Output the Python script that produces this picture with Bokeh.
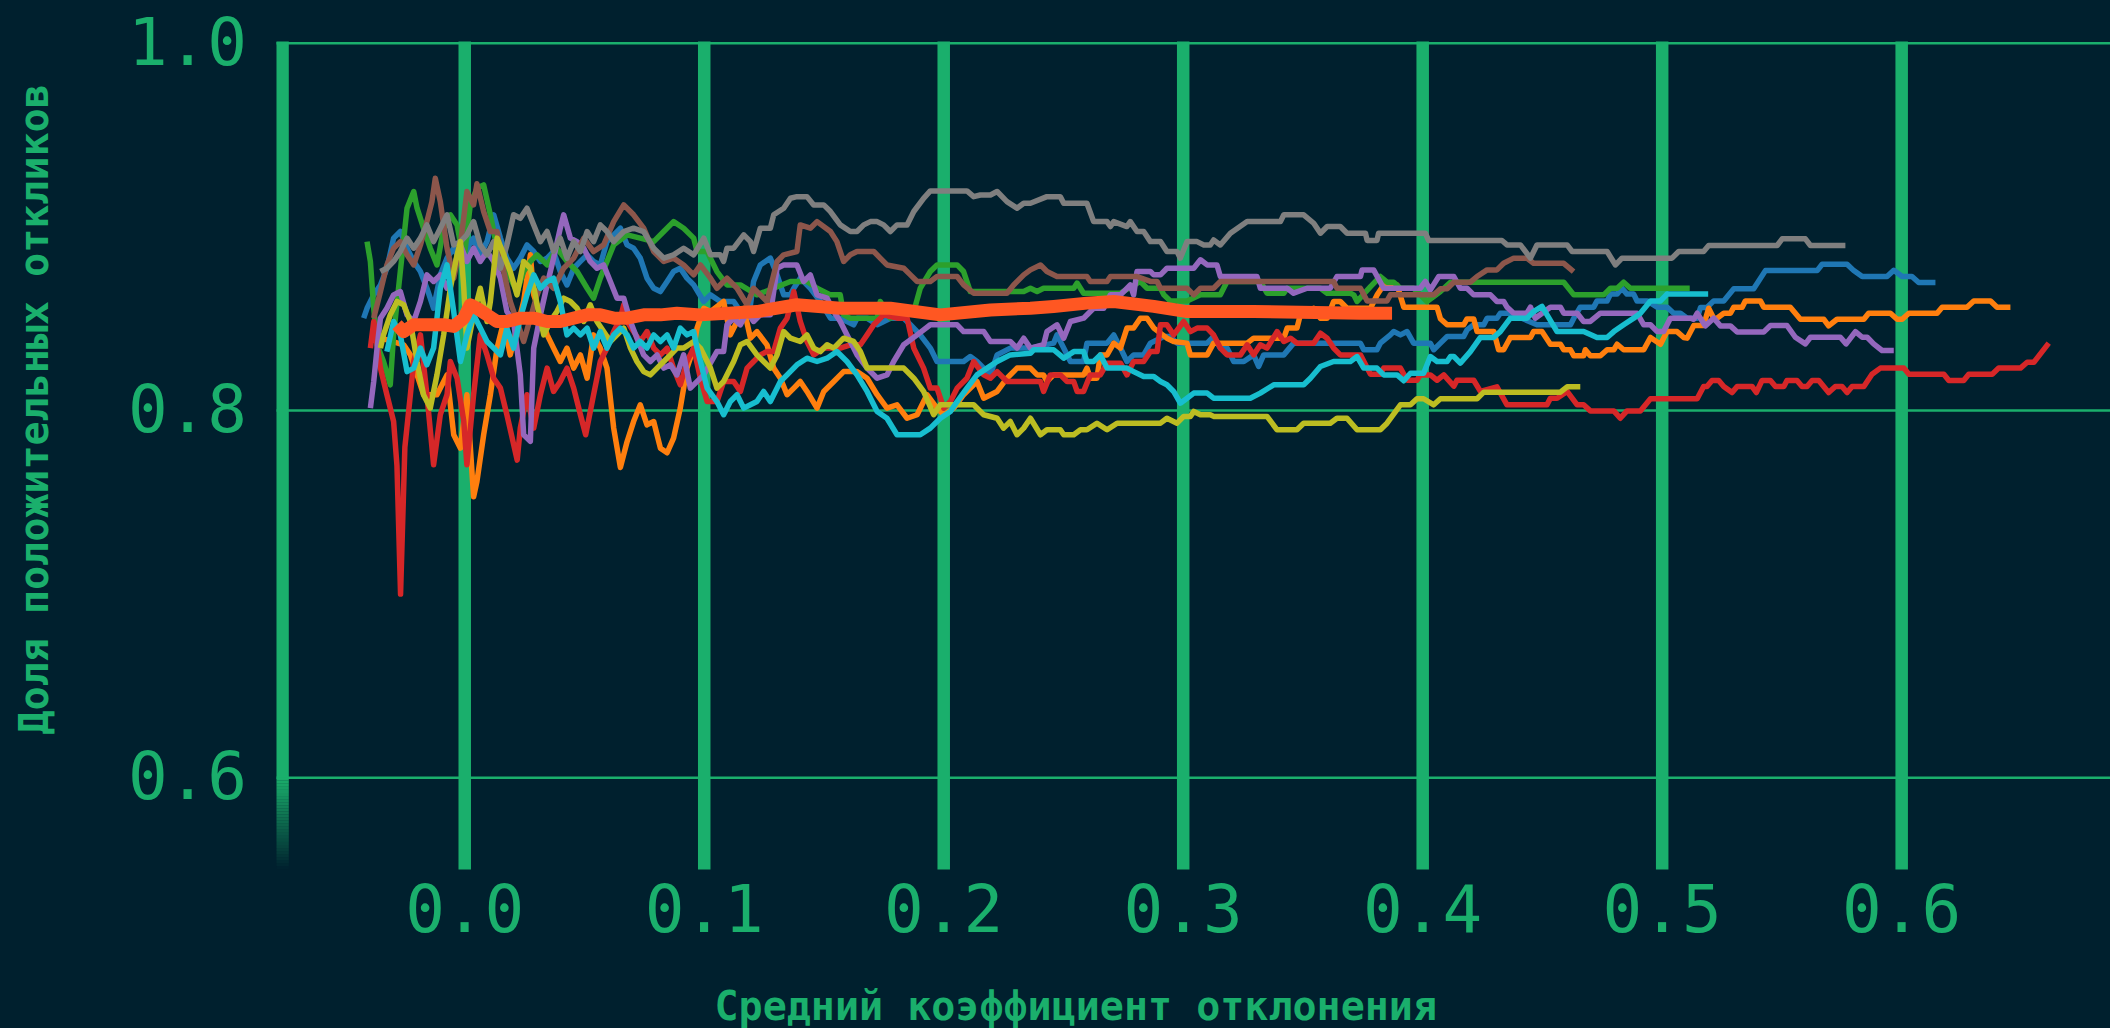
import math
from bokeh.plotting import figure
from bokeh.models import ColumnDataSource
from bokeh.core.properties import value
from bokeh.embed import file_html
from bokeh.resources import INLINE

# ---------------- data ----------------
x_ticks = [0.0, 0.1, 0.2, 0.3, 0.4, 0.5, 0.6]
x_tick_labels = ["0.0", "0.1", "0.2", "0.3", "0.4", "0.5", "0.6"]
y_ticks = [0.6, 0.8, 1.0]
y_tick_labels = ["0.6", "0.8", "1.0"]

x_title = "Средний коэффициент отклонения"
y_title = "Доля положительных откликов"

series_names = ["blue", "orange", "green", "red", "purple", "brown", "gray", "olive", "cyan"]

blue = [(-0.0422,0.8503),(-0.0408,0.8557),(-0.0380,0.8630),(-0.0352,0.8684),(-0.0325,0.8775),(-0.0297,0.8939),(-0.0269,0.8975),(-0.0241,0.8884),(-0.0213,0.8812),(-0.0185,0.8757),(-0.0158,0.8666),(-0.0130,0.8557),(-0.0102,0.8739),(-0.0074,0.8830),(-0.0046,0.8884),(-0.0018,0.8812),(0.0009,0.8884),(0.0037,0.8939),(0.0065,0.8848),(0.0093,0.8920),(0.0121,0.9066),(0.0149,0.8939),(0.0176,0.8830),(0.0204,0.8775),(0.0232,0.8830),(0.0260,0.8902),(0.0288,0.8866),(0.0316,0.8812),(0.0344,0.8830),(0.0371,0.8866),(0.0399,0.8757),(0.0427,0.8684),(0.0455,0.8775),(0.0483,0.8812),(0.0511,0.8848),(0.0538,0.8812),(0.0566,0.8793),(0.0594,0.8920),(0.0622,0.8957),(0.0650,0.8993),(0.0678,0.8902),(0.0705,0.8884),(0.0733,0.8830),(0.0761,0.8721),(0.0789,0.8666),(0.0817,0.8648),(0.0845,0.8703),(0.0872,0.8757),(0.0900,0.8775),(0.0928,0.8721),(0.0956,0.8684),
        (0.0998,0.8594),(0.1026,0.8630),(0.1067,0.8594),(0.1123,0.8594),(0.1151,0.8539),(0.1193,0.8576),(0.1206,0.8703),(0.1234,0.8793),(0.1276,0.8830),(0.1304,0.8739),(0.1332,0.8630),(0.1360,0.8630),(0.1374,0.8666),(0.1401,0.8721),(0.1443,0.8666),(0.1485,0.8594),(0.1527,0.8503),(0.1568,0.8503),(0.1624,0.8467),(0.1638,0.8503),(0.1680,0.8503),(0.1722,0.8467),(0.1777,0.8503),(0.1833,0.8503),(0.1861,0.8467),(0.1902,0.8412),(0.1944,0.8340),(0.1972,0.8267),(0.2083,0.8267),(0.2111,0.8294),(0.2139,0.8267),(0.2167,0.8231),(0.2195,0.8194),(0.2223,0.8303),(0.2278,0.8340),(0.2362,0.8340),
        (0.2459,0.8367),(0.2473,0.8412),(0.2501,0.8340),(0.2529,0.8267),(0.2584,0.8267),(0.2598,0.8367),(0.2682,0.8367),(0.2710,0.8412),(0.2738,0.8340),(0.2765,0.8267),(0.2793,0.8303),(0.2835,0.8303),(0.2863,0.8367),(0.2919,0.8403),(0.2946,0.8403),(0.2974,0.8367),(0.3100,0.8367),(0.3127,0.8403),(0.3155,0.8340),(0.3183,0.8340),(0.3211,0.8267),(0.3253,0.8267),(0.3294,0.8303),(0.3315,0.8240),(0.3336,0.8303),(0.3420,0.8303),(0.3461,0.8367),(0.3740,0.8367),
        (0.3754,0.8331),(0.3809,0.8331),(0.3823,0.8367),(0.3865,0.8412),(0.3879,0.8430),(0.3907,0.8412),(0.3935,0.8430),(0.3962,0.8367),(0.4032,0.8367),(0.4046,0.8331),(0.4074,0.8367),(0.4102,0.8403),(0.4171,0.8403),(0.4185,0.8439),(0.4213,0.8467),(0.4255,0.8467),(0.4269,0.8503),(0.4310,0.8503),(0.4324,0.8530),(0.4366,0.8530),(0.4477,0.8467),(0.4617,0.8467),(0.4631,0.8503),(0.4658,0.8563),(0.4714,0.8563),(0.4728,0.8597),(0.4770,0.8597),(0.4784,0.8634),(0.4812,0.8634),(0.4832,0.8666),(0.4853,0.8634),(0.4881,0.8634),(0.4895,0.8597),(0.4937,0.8597),(0.4979,0.8563),(0.5020,0.8563),(0.5048,0.8530),(0.5076,0.8530),(0.5104,0.8503),
        (0.5146,0.8503),(0.5160,0.8561),(0.5187,0.8561),(0.5215,0.8597),(0.5257,0.8597),(0.5299,0.8663),(0.5382,0.8663),(0.5431,0.8762),(0.5647,0.8762),(0.5668,0.8797),(0.5772,0.8797),(0.5800,0.8762),(0.5835,0.8730),(0.5939,0.8730),(0.5967,0.8764),(0.6002,0.8730),(0.6043,0.8730),(0.6071,0.8697),(0.6141,0.8697)]

orange = [(-0.0394,0.8412),(-0.0255,0.8358),(-0.0227,0.8303),(-0.0199,0.8194),(-0.0172,0.8086),(-0.0116,0.8086),(-0.0074,0.8194),(-0.0046,0.7868),(-0.0018,0.7795),(0.0009,0.8086),(0.0037,0.7530),(0.0051,0.7614),(0.0079,0.7868),(0.0107,0.8086),(0.0135,0.8340),(0.0163,0.8485),(0.0190,0.8303),(0.0218,0.8449),(0.0246,0.8594),(0.0274,0.8848),(0.0288,0.8630),(0.0316,0.8521),(0.0344,0.8412),(0.0371,0.8340),(0.0399,0.8267),(0.0427,0.8340),(0.0455,0.8231),(0.0483,0.8303),(0.0511,0.8176),(0.0538,0.8412),(0.0566,0.8340),(0.0594,0.8231),(0.0622,0.7904),(0.0650,0.7690),(0.0678,0.7831),(0.0705,0.7940),(0.0733,0.8031),(0.0761,0.7922),(0.0789,0.7940),(0.0817,0.7795),(0.0845,0.7770),(0.0872,0.7850),(0.0900,0.8013),(0.0928,0.8231),(0.0956,0.8340),
          (0.0970,0.8449),(0.0998,0.8557),(0.1026,0.8539),(0.1081,0.8594),(0.1109,0.8412),(0.1137,0.8485),(0.1165,0.8557),(0.1193,0.8394),(0.1220,0.8430),(0.1262,0.8358),(0.1290,0.8231),(0.1318,0.8176),(0.1346,0.8086),(0.1374,0.8122),(0.1401,0.8158),(0.1429,0.8104),(0.1471,0.8013),(0.1499,0.8104),(0.1541,0.8158),(0.1582,0.8212),(0.1638,0.8212),(0.1680,0.8176),(0.1722,0.8086),(0.1763,0.8013),(0.1805,0.8031),(0.1847,0.7958),(0.1889,0.7977),(0.1930,0.8086),(0.1972,0.8013),(0.2000,0.7977),(0.2042,0.8013),(0.2083,0.8086),(0.2139,0.8158),(0.2167,0.8067),(0.2223,0.8104),(0.2264,0.8176),(0.2306,0.8231),(0.2362,0.8231),
          (0.2390,0.8194),(0.2417,0.8194),(0.2431,0.8158),(0.2459,0.8194),(0.2584,0.8194),(0.2598,0.8231),(0.2612,0.8176),(0.2640,0.8176),(0.2654,0.8303),(0.2682,0.8303),(0.2710,0.8367),(0.2738,0.8340),(0.2765,0.8449),(0.2793,0.8449),(0.2821,0.8503),(0.2849,0.8503),(0.2877,0.8449),(0.2932,0.8394),(0.2960,0.8376),(0.3016,0.8367),(0.3030,0.8303),(0.3100,0.8303),(0.3127,0.8367),(0.3267,0.8367),(0.3294,0.8394),(0.3420,0.8394),(0.3434,0.8449),(0.3475,0.8449),(0.3489,0.8521),(0.3531,0.8521),(0.3545,0.8557),(0.3573,0.8503),(0.3601,0.8503),(0.3628,0.8594),(0.3656,0.8594),(0.3684,0.8557),(0.3740,0.8557),
          (0.3782,0.8557),(0.3810,0.8630),(0.3837,0.8684),(0.3893,0.8684),(0.3921,0.8563),(0.4060,0.8563),(0.4074,0.8500),(0.4102,0.8467),(0.4171,0.8467),(0.4185,0.8499),(0.4213,0.8499),(0.4227,0.8430),(0.4297,0.8430),(0.4317,0.8331),(0.4338,0.8331),(0.4366,0.8398),(0.4450,0.8398),(0.4463,0.8430),(0.4498,0.8430),(0.4533,0.8361),(0.4575,0.8361),(0.4589,0.8331),(0.4617,0.8331),(0.4631,0.8298),(0.4672,0.8298),(0.4679,0.8331),(0.4700,0.8298),(0.4742,0.8298),(0.4770,0.8331),(0.4798,0.8331),(0.4812,0.8361),(0.4839,0.8331),(0.4923,0.8331),(0.4951,0.8398),(0.4993,0.8361),(0.5020,0.8430),(0.5062,0.8430),(0.5090,0.8398),(0.5104,0.8394),
          (0.5132,0.8463),(0.5173,0.8463),(0.5194,0.8557),(0.5215,0.8503),(0.5229,0.8503),(0.5257,0.8530),(0.5285,0.8530),(0.5299,0.8563),(0.5334,0.8563),(0.5347,0.8597),(0.5410,0.8597),(0.5424,0.8563),(0.5535,0.8563),(0.5577,0.8497),(0.5675,0.8497),(0.5695,0.8461),(0.5730,0.8497),(0.5842,0.8497),(0.5862,0.8530),(0.5953,0.8530),(0.5981,0.8497),(0.6002,0.8497),(0.6030,0.8530),(0.6148,0.8530),(0.6169,0.8563),(0.6273,0.8563),(0.6301,0.8597),(0.6371,0.8597),(0.6398,0.8563),(0.6454,0.8563)]

green = [(-0.0408,0.8920),(-0.0394,0.8812),(-0.0380,0.8557),(-0.0366,0.8358),(-0.0339,0.8267),(-0.0311,0.8140),(-0.0297,0.8412),(-0.0269,0.8757),(-0.0241,0.9102),(-0.0213,0.9193),(-0.0199,0.9102),(-0.0172,0.8993),(-0.0144,0.8884),(-0.0116,0.8793),(-0.0088,0.8993),(-0.0060,0.9066),(-0.0032,0.9011),(-0.0004,0.8812),(0.0023,0.9120),(0.0051,0.9211),(0.0079,0.9229),(0.0107,0.9066),(0.0135,0.8884),(0.0163,0.8812),(0.0190,0.8721),(0.0218,0.8648),(0.0246,0.8757),(0.0274,0.8812),(0.0302,0.8848),(0.0344,0.8793),(0.0385,0.8884),(0.0427,0.8812),(0.0469,0.8757),(0.0511,0.8666),(0.0538,0.8612),(0.0566,0.8721),(0.0594,0.8812),(0.0622,0.8902),(0.0678,0.8957),(0.0733,0.8939),(0.0789,0.8920),(0.0831,0.8975),(0.0872,0.9029),(0.0914,0.8993),(0.0956,0.8939),
         (0.0970,0.8866),(0.1012,0.8866),(0.1053,0.8757),(0.1095,0.8684),(0.1151,0.8684),(0.1220,0.8630),(0.1290,0.8666),(0.1360,0.8703),(0.1429,0.8703),(0.1471,0.8666),(0.1527,0.8630),(0.1568,0.8630),(0.1582,0.8521),(0.1610,0.8503),(0.1722,0.8503),(0.1735,0.8594),(0.1777,0.8503),(0.1833,0.8521),(0.1875,0.8539),(0.1902,0.8666),(0.1944,0.8757),(0.1972,0.8793),(0.2056,0.8793),(0.2083,0.8757),(0.2111,0.8648),(0.2153,0.8648),(0.2334,0.8648),
         (0.2362,0.8666),(0.2390,0.8648),(0.2417,0.8666),(0.2543,0.8666),(0.2557,0.8694),(0.2584,0.8639),(0.2738,0.8639),(0.2821,0.8703),(0.2849,0.8666),(0.2905,0.8666),(0.2919,0.8630),(0.2946,0.8597),(0.3016,0.8597),(0.3072,0.8630),(0.3155,0.8630),(0.3183,0.8703),(0.3322,0.8703),(0.3350,0.8639),(0.3420,0.8639),(0.3434,0.8666),(0.3573,0.8666),(0.3601,0.8639),(0.3698,0.8639),
         (0.3712,0.8630),(0.3726,0.8594),(0.3782,0.8675),(0.3823,0.8730),(0.3851,0.8699),(0.3879,0.8699),(0.3907,0.8666),(0.3962,0.8666),(0.4018,0.8594),(0.4074,0.8648),(0.4116,0.8699),(0.4589,0.8699),(0.4631,0.8630),(0.4756,0.8630),(0.4784,0.8666),(0.4812,0.8666),(0.4839,0.8699),(0.4867,0.8666),(0.5115,0.8666)]

red = [(-0.0394,0.8340),(-0.0380,0.8485),(-0.0352,0.8231),(-0.0325,0.8086),(-0.0297,0.7940),(-0.0283,0.7700),(-0.0268,0.7000),(-0.0250,0.7800),(-0.0227,0.8086),(-0.0213,0.8267),(-0.0185,0.8412),(-0.0158,0.8086),(-0.0130,0.7704),(-0.0102,0.7977),(-0.0074,0.8086),(-0.0060,0.8267),(-0.0032,0.8176),(-0.0004,0.7940),(0.0009,0.7704),(0.0037,0.8086),(0.0065,0.8412),(0.0093,0.8303),(0.0121,0.8176),(0.0149,0.8122),(0.0176,0.7977),(0.0219,0.7730),(0.0232,0.7904),(0.0260,0.8086),(0.0288,0.7904),(0.0316,0.8086),(0.0344,0.8231),(0.0371,0.8104),(0.0399,0.8158),(0.0427,0.8231),(0.0455,0.8122),(0.0483,0.7977),(0.0505,0.7868),(0.0538,0.8086),(0.0566,0.8267),(0.0594,0.8340),(0.0622,0.8430),(0.0650,0.8503),(0.0664,0.8576),(0.0678,0.8485),(0.0705,0.8430),(0.0733,0.8376),(0.0761,0.8430),(0.0789,0.8340),(0.0817,0.8303),(0.0845,0.8340),(0.0872,0.8231),(0.0900,0.8140),(0.0928,0.8267),(0.0956,0.8340),
       (0.0984,0.8176),(0.1012,0.8049),(0.1053,0.8049),(0.1081,0.8158),(0.1123,0.8158),(0.1151,0.8104),(0.1179,0.8231),(0.1206,0.8267),(0.1234,0.8303),(0.1262,0.8321),(0.1290,0.8321),(0.1318,0.8449),(0.1346,0.8503),(0.1374,0.8648),(0.1401,0.8485),(0.1429,0.8376),(0.1457,0.8303),(0.1499,0.8340),(0.1568,0.8340),(0.1610,0.8358),(0.1652,0.8358),(0.1680,0.8412),(0.1708,0.8467),(0.1749,0.8521),(0.1805,0.8503),(0.1847,0.8503),(0.1875,0.8340),(0.1916,0.8231),(0.1944,0.8122),(0.1972,0.8122),(0.2000,0.8013),(0.2028,0.8049),(0.2056,0.8122),(0.2097,0.8176),(0.2125,0.8267),(0.2167,0.8194),(0.2195,0.8176),(0.2223,0.8212),(0.2264,0.8158),(0.2362,0.8158),
       (0.2404,0.8158),(0.2417,0.8104),(0.2445,0.8194),(0.2487,0.8194),(0.2515,0.8158),(0.2543,0.8158),(0.2557,0.8104),(0.2584,0.8104),(0.2612,0.8194),(0.2654,0.8194),(0.2682,0.8258),(0.2738,0.8258),(0.2765,0.8194),(0.2793,0.8267),(0.2835,0.8267),(0.2863,0.8321),(0.2891,0.8321),(0.2905,0.8467),(0.2932,0.8467),(0.2960,0.8412),(0.3002,0.8485),(0.3030,0.8430),(0.3058,0.8449),(0.3100,0.8449),(0.3127,0.8412),(0.3155,0.8340),(0.3183,0.8303),(0.3239,0.8303),(0.3267,0.8358),(0.3294,0.8303),(0.3322,0.8358),(0.3350,0.8340),(0.3392,0.8430),(0.3420,0.8376),(0.3448,0.8394),(0.3475,0.8367),(0.3545,0.8367),(0.3573,0.8421),(0.3601,0.8394),(0.3628,0.8340),(0.3656,0.8303),(0.3740,0.8303),
       (0.3782,0.8198),(0.3823,0.8198),(0.3837,0.8231),(0.3907,0.8231),(0.3935,0.8165),(0.3976,0.8165),(0.3990,0.8194),(0.4032,0.8194),(0.4060,0.8165),(0.4088,0.8194),(0.4130,0.8133),(0.4143,0.8165),(0.4213,0.8165),(0.4241,0.8104),(0.4310,0.8129),(0.4352,0.8031),(0.4519,0.8031),(0.4533,0.8067),(0.4561,0.8067),(0.4603,0.8104),(0.4645,0.8031),(0.4672,0.8031),(0.4700,0.7998),(0.4798,0.7998),(0.4825,0.7958),(0.4853,0.7998),(0.4909,0.7998),(0.4951,0.8064),(0.5118,0.8064),
       (0.5146,0.8064),(0.5173,0.8131),(0.5187,0.8131),(0.5208,0.8164),(0.5236,0.8164),(0.5257,0.8131),(0.5292,0.8098),(0.5313,0.8131),(0.5375,0.8131),(0.5393,0.8098),(0.5417,0.8164),(0.5452,0.8164),(0.5473,0.8131),(0.5508,0.8131),(0.5521,0.8164),(0.5563,0.8164),(0.5584,0.8131),(0.5605,0.8131),(0.5626,0.8164),(0.5654,0.8164),(0.5695,0.8098),(0.5723,0.8131),(0.5751,0.8131),(0.5772,0.8098),(0.5793,0.8131),(0.5842,0.8131),(0.5876,0.8198),(0.5911,0.8231),(0.6009,0.8231),(0.6030,0.8198),(0.6176,0.8198),(0.6197,0.8164),(0.6259,0.8164),(0.6280,0.8198),(0.6378,0.8198),(0.6405,0.8231),(0.6496,0.8231),(0.6524,0.8263),(0.6552,0.8263),(0.6614,0.8367)]

purple = [(-0.0394,0.8013),(-0.0380,0.8158),(-0.0366,0.8340),(-0.0352,0.8503),(-0.0325,0.8557),(-0.0297,0.8630),(-0.0269,0.8648),(-0.0241,0.8521),(-0.0213,0.8485),(-0.0185,0.8594),(-0.0158,0.8739),(-0.0130,0.8703),(-0.0102,0.8739),(-0.0074,0.8666),(-0.0046,0.8775),(-0.0018,0.8902),(0.0009,0.8812),(0.0037,0.8884),(0.0065,0.8812),(0.0093,0.8866),(0.0121,0.8812),(0.0149,0.8721),(0.0176,0.8539),(0.0204,0.8485),(0.0232,0.8194),(0.0246,0.7868),(0.0274,0.7832),(0.0288,0.8340),(0.0316,0.8521),(0.0344,0.8684),(0.0371,0.8830),(0.0399,0.8993),(0.0413,0.9066),(0.0441,0.8939),(0.0469,0.8920),(0.0497,0.8884),(0.0524,0.8812),(0.0552,0.8775),(0.0580,0.8793),(0.0608,0.8703),(0.0636,0.8612),(0.0664,0.8612),(0.0692,0.8485),(0.0719,0.8394),(0.0747,0.8303),(0.0775,0.8267),(0.0803,0.8303),(0.0831,0.8231),(0.0859,0.8249),(0.0886,0.8194),(0.0914,0.8303),(0.0942,0.8122),
          (0.0998,0.8194),(0.1053,0.8321),(0.1081,0.8321),(0.1095,0.8467),(0.1123,0.8503),(0.1151,0.8467),(0.1179,0.8539),(0.1206,0.8485),(0.1234,0.8521),(0.1276,0.8521),(0.1304,0.8775),(0.1332,0.8793),(0.1387,0.8793),(0.1415,0.8703),(0.1443,0.8739),(0.1471,0.8630),(0.1513,0.8612),(0.1541,0.8539),(0.1568,0.8485),(0.1610,0.8376),(0.1638,0.8303),(0.1680,0.8231),(0.1722,0.8176),(0.1763,0.8194),(0.1791,0.8267),(0.1833,0.8358),(0.1889,0.8412),(0.1944,0.8467),(0.2056,0.8467),(0.2083,0.8430),(0.2167,0.8430),(0.2195,0.8376),(0.2278,0.8376),(0.2306,0.8340),(0.2334,0.8394),(0.2362,0.8340),
          (0.2417,0.8358),(0.2431,0.8430),(0.2473,0.8467),(0.2501,0.8394),(0.2529,0.8485),(0.2584,0.8503),(0.2626,0.8557),(0.2668,0.8557),(0.2696,0.8630),(0.2738,0.8630),(0.2779,0.8684),(0.2793,0.8630),(0.2807,0.8757),(0.2863,0.8757),(0.2877,0.8739),(0.2905,0.8739),(0.2932,0.8775),(0.3044,0.8775),(0.3072,0.8821),(0.3100,0.8793),(0.3141,0.8793),(0.3155,0.8730),(0.3308,0.8730),(0.3322,0.8666),(0.3434,0.8666),(0.3461,0.8639),(0.3517,0.8666),(0.3614,0.8666),(0.3642,0.8730),(0.3740,0.8730),
          (0.3747,0.8766),(0.3795,0.8766),(0.3837,0.8666),(0.3990,0.8666),(0.4011,0.8703),(0.4032,0.8657),(0.4067,0.8730),(0.4130,0.8730),(0.4157,0.8666),(0.4185,0.8666),(0.4213,0.8630),(0.4283,0.8630),(0.4310,0.8594),(0.4338,0.8594),(0.4352,0.8563),(0.4380,0.8530),(0.4435,0.8530),(0.4450,0.8563),(0.4470,0.8503),(0.4533,0.8563),(0.4575,0.8563),(0.4589,0.8530),(0.4645,0.8530),(0.4672,0.8485),(0.4700,0.8485),(0.4742,0.8530),(0.4895,0.8530),(0.4923,0.8467),(0.4951,0.8467),(0.4979,0.8430),(0.5006,0.8430),(0.5034,0.8503),(0.5118,0.8503),
          (0.5132,0.8497),(0.5146,0.8530),(0.5180,0.8461),(0.5215,0.8503),(0.5243,0.8461),(0.5285,0.8461),(0.5313,0.8428),(0.5424,0.8428),(0.5452,0.8463),(0.5521,0.8463),(0.5556,0.8399),(0.5598,0.8363),(0.5619,0.8399),(0.5744,0.8399),(0.5768,0.8363),(0.5807,0.8430),(0.5835,0.8399),(0.5856,0.8399),(0.5883,0.8363),(0.5918,0.8327),(0.5967,0.8327)]

brown = [(-0.0380,0.8503),(-0.0352,0.8648),(-0.0325,0.8793),(-0.0297,0.8884),(-0.0269,0.8920),(-0.0241,0.8848),(-0.0213,0.8793),(-0.0185,0.8902),(-0.0158,0.9029),(-0.0137,0.9138),(-0.0123,0.9265),(-0.0102,0.9138),(-0.0074,0.8884),(-0.0046,0.8721),(-0.0018,0.8902),(0.0009,0.9193),(0.0037,0.9120),(0.0051,0.9235),(0.0079,0.9084),(0.0107,0.8975),(0.0135,0.8975),(0.0163,0.8757),(0.0190,0.8594),(0.0218,0.8485),(0.0246,0.8376),(0.0274,0.8503),(0.0302,0.8630),(0.0330,0.8721),(0.0371,0.8666),(0.0413,0.8775),(0.0455,0.8830),(0.0497,0.8939),(0.0538,0.8866),(0.0580,0.8902),(0.0622,0.9029),(0.0664,0.9120),(0.0705,0.9066),(0.0747,0.8993),(0.0789,0.8866),(0.0831,0.8812),(0.0872,0.8830),(0.0914,0.8793),(0.0956,0.8739),
         (0.0984,0.8793),(0.1026,0.8721),(0.1053,0.8666),(0.1095,0.8721),(0.1137,0.8666),(0.1179,0.8576),(0.1206,0.8666),(0.1234,0.8630),(0.1262,0.8594),(0.1304,0.8812),(0.1332,0.8848),(0.1387,0.8866),(0.1401,0.9011),(0.1443,0.8993),(0.1471,0.9029),(0.1527,0.8975),(0.1554,0.8920),(0.1582,0.8812),(0.1610,0.8848),(0.1638,0.8866),(0.1708,0.8866),(0.1735,0.8830),(0.1763,0.8793),(0.1833,0.8775),(0.1861,0.8739),(0.1889,0.8703),(0.1944,0.8703),(0.1972,0.8730),(0.2056,0.8730),(0.2083,0.8684),(0.2125,0.8639),(0.2264,0.8639),(0.2292,0.8684),(0.2334,0.8739),(0.2362,0.8766),
         (0.2404,0.8793),(0.2431,0.8757),(0.2473,0.8730),(0.2598,0.8730),(0.2612,0.8703),(0.2682,0.8703),(0.2696,0.8730),(0.2807,0.8730),(0.2863,0.8703),(0.2891,0.8703),(0.2905,0.8666),(0.3016,0.8666),(0.3044,0.8630),(0.3072,0.8666),(0.3127,0.8666),(0.3155,0.8703),(0.3628,0.8703),(0.3642,0.8666),(0.3740,0.8666),
         (0.3768,0.8597),(0.3851,0.8597),(0.3865,0.8630),(0.4046,0.8630),(0.4074,0.8663),(0.4102,0.8663),(0.4130,0.8699),(0.4199,0.8699),(0.4227,0.8730),(0.4269,0.8766),(0.4310,0.8766),(0.4338,0.8802),(0.4380,0.8830),(0.4435,0.8830),(0.4463,0.8802),(0.4589,0.8802),(0.4630,0.8757)]

gray = [(-0.0352,0.8757),(-0.0325,0.8775),(-0.0297,0.8812),(-0.0269,0.8866),(-0.0241,0.8939),(-0.0213,0.8884),(-0.0185,0.8939),(-0.0158,0.9011),(-0.0130,0.8920),(-0.0102,0.8993),(-0.0074,0.9066),(-0.0046,0.8902),(-0.0018,0.8920),(0.0009,0.8957),(0.0037,0.9029),(0.0065,0.8902),(0.0093,0.8848),(0.0121,0.8920),(0.0149,0.8775),(0.0176,0.8902),(0.0204,0.9066),(0.0232,0.9047),(0.0260,0.9102),(0.0288,0.9011),(0.0316,0.8920),(0.0344,0.8975),(0.0371,0.8866),(0.0399,0.8939),(0.0427,0.8830),(0.0455,0.8920),(0.0483,0.8866),(0.0511,0.8975),(0.0538,0.8920),(0.0566,0.9011),(0.0594,0.8975),(0.0622,0.8920),(0.0664,0.8975),(0.0705,0.8993),(0.0747,0.8975),(0.0789,0.8884),(0.0831,0.8830),(0.0872,0.8848),(0.0914,0.8884),(0.0956,0.8848),
        (0.0998,0.8939),(0.1026,0.8848),(0.1067,0.8848),(0.1081,0.8812),(0.1095,0.8884),(0.1123,0.8884),(0.1165,0.8957),(0.1193,0.8920),(0.1206,0.8866),(0.1234,0.8993),(0.1276,0.8993),(0.1290,0.9066),(0.1332,0.9102),(0.1360,0.9156),(0.1387,0.9165),(0.1429,0.9165),(0.1457,0.9120),(0.1499,0.9120),(0.1527,0.9084),(0.1568,0.9011),(0.1610,0.8975),(0.1638,0.8975),(0.1666,0.9011),(0.1694,0.9029),(0.1722,0.9029),(0.1749,0.9011),(0.1777,0.8975),(0.1805,0.9011),(0.1847,0.9011),(0.1875,0.9084),(0.1916,0.9156),(0.1944,0.9196),(0.2097,0.9196),(0.2125,0.9165),(0.2153,0.9174),(0.2195,0.9174),(0.2223,0.9193),(0.2264,0.9138),(0.2306,0.9102),(0.2334,0.9129),(0.2362,0.9129),
        (0.2431,0.9165),(0.2487,0.9165),(0.2501,0.9129),(0.2598,0.9129),(0.2626,0.9029),(0.2682,0.9029),(0.2696,0.9002),(0.2710,0.9029),(0.2765,0.9002),(0.2779,0.9029),(0.2807,0.8975),(0.2835,0.8975),(0.2863,0.8920),(0.2905,0.8920),(0.2932,0.8866),(0.2974,0.8866),(0.2988,0.8830),(0.3016,0.8920),(0.3058,0.8920),(0.3086,0.8902),(0.3113,0.8902),(0.3127,0.8929),(0.3155,0.8902),(0.3197,0.8966),(0.3267,0.9029),(0.3406,0.9029),(0.3420,0.9066),(0.3503,0.9066),(0.3545,0.9020),(0.3573,0.8966),(0.3601,0.9002),(0.3656,0.9002),(0.3684,0.8966),(0.3740,0.8966),
        (0.3761,0.8966),(0.3768,0.8926),(0.3809,0.8926),(0.3816,0.8966),(0.4011,0.8966),(0.4025,0.8926),(0.4331,0.8926),(0.4352,0.8902),(0.4408,0.8902),(0.4450,0.8830),(0.4477,0.8902),(0.4603,0.8902),(0.4624,0.8866),(0.4770,0.8866),(0.4805,0.8793),(0.4832,0.8830),(0.5041,0.8830),(0.5069,0.8866),(0.5173,0.8866),(0.5194,0.8899),(0.5480,0.8899),(0.5501,0.8935),(0.5598,0.8935),(0.5619,0.8899),(0.5765,0.8899)]

olive = [(-0.0352,0.8340),(-0.0339,0.8412),(-0.0311,0.8521),(-0.0283,0.8594),(-0.0255,0.8576),(-0.0227,0.8485),(-0.0199,0.8267),(-0.0172,0.8086),(-0.0144,0.8013),(-0.0116,0.8194),(-0.0088,0.8412),(-0.0060,0.8666),(-0.0032,0.8848),(-0.0018,0.8920),(-0.0004,0.8666),(0.0009,0.8340),(0.0037,0.8521),(0.0065,0.8666),(0.0093,0.8485),(0.0107,0.8594),(0.0135,0.8939),(0.0163,0.8848),(0.0190,0.8757),(0.0218,0.8630),(0.0246,0.8812),(0.0274,0.8775),(0.0302,0.8576),(0.0330,0.8412),(0.0357,0.8485),(0.0385,0.8539),(0.0413,0.8612),(0.0441,0.8594),(0.0469,0.8557),(0.0497,0.8485),(0.0524,0.8576),(0.0552,0.8485),(0.0580,0.8430),(0.0608,0.8376),(0.0636,0.8412),(0.0664,0.8449),(0.0692,0.8340),(0.0719,0.8267),(0.0747,0.8212),(0.0775,0.8194),(0.0803,0.8231),(0.0831,0.8267),(0.0859,0.8303),(0.0886,0.8340),(0.0914,0.8340),(0.0956,0.8376),
         (0.0984,0.8340),(0.1026,0.8231),(0.1053,0.8122),(0.1081,0.8158),(0.1123,0.8267),(0.1151,0.8358),(0.1179,0.8376),(0.1220,0.8303),(0.1248,0.8267),(0.1276,0.8231),(0.1304,0.8303),(0.1332,0.8430),(0.1360,0.8394),(0.1401,0.8376),(0.1429,0.8412),(0.1457,0.8340),(0.1485,0.8321),(0.1513,0.8358),(0.1541,0.8340),(0.1582,0.8394),(0.1624,0.8376),(0.1652,0.8321),(0.1680,0.8231),(0.1833,0.8231),(0.1875,0.8176),(0.1916,0.8104),(0.1958,0.7977),(0.1986,0.8031),(0.2125,0.8031),(0.2167,0.7977),(0.2223,0.7958),(0.2250,0.7904),(0.2278,0.7940),(0.2306,0.7868),(0.2334,0.7904),(0.2362,0.7958),
         (0.2404,0.7868),(0.2431,0.7895),(0.2487,0.7895),(0.2501,0.7868),(0.2543,0.7868),(0.2571,0.7895),(0.2598,0.7895),(0.2640,0.7931),(0.2682,0.7895),(0.2724,0.7931),(0.2905,0.7931),(0.2932,0.7958),(0.2974,0.7931),(0.3002,0.7968),(0.3030,0.7968),(0.3044,0.7995),(0.3072,0.7977),(0.3113,0.7977),(0.3127,0.7968),(0.3350,0.7968),(0.3392,0.7895),(0.3475,0.7895),(0.3503,0.7931),(0.3614,0.7931),(0.3642,0.7958),(0.3684,0.7958),(0.3726,0.7895),
         (0.3823,0.7895),(0.3851,0.7931),(0.3907,0.8031),(0.3949,0.8031),(0.3976,0.8064),(0.4004,0.8064),(0.4046,0.8031),(0.4074,0.8064),(0.4227,0.8064),(0.4255,0.8100),(0.4575,0.8100),(0.4603,0.8129),(0.4658,0.8129)]

cyan = [(-0.0325,0.8321),(-0.0297,0.8485),(-0.0269,0.8412),(-0.0241,0.8212),(-0.0213,0.8231),(-0.0185,0.8340),(-0.0158,0.8249),(-0.0130,0.8340),(-0.0102,0.8666),(-0.0074,0.8793),(-0.0046,0.8539),(-0.0018,0.8267),(0.0009,0.8412),(0.0037,0.8521),(0.0065,0.8449),(0.0093,0.8376),(0.0121,0.8340),(0.0149,0.8303),(0.0176,0.8449),(0.0204,0.8340),(0.0232,0.8503),(0.0260,0.8630),(0.0288,0.8739),(0.0316,0.8666),(0.0344,0.8703),(0.0371,0.8721),(0.0399,0.8594),(0.0427,0.8412),(0.0455,0.8449),(0.0483,0.8412),(0.0511,0.8449),(0.0538,0.8340),(0.0566,0.8430),(0.0594,0.8340),(0.0622,0.8412),(0.0650,0.8449),(0.0678,0.8412),(0.0705,0.8340),(0.0733,0.8376),(0.0761,0.8340),(0.0789,0.8412),(0.0817,0.8376),(0.0845,0.8412),(0.0872,0.8340),(0.0900,0.8449),(0.0928,0.8412),(0.0956,0.8430),
        (0.0970,0.8340),(0.1012,0.8122),(0.1053,0.8049),(0.1081,0.7977),(0.1109,0.8049),(0.1137,0.8086),(0.1165,0.8013),(0.1193,0.8031),(0.1220,0.8049),(0.1248,0.8104),(0.1276,0.8049),(0.1318,0.8158),(0.1346,0.8194),(0.1387,0.8249),(0.1429,0.8285),(0.1471,0.8267),(0.1513,0.8285),(0.1554,0.8321),(0.1596,0.8267),(0.1638,0.8194),(0.1680,0.8104),(0.1722,0.7995),(0.1763,0.7958),(0.1805,0.7868),(0.1902,0.7868),(0.1944,0.7904),(0.1986,0.7958),(0.2028,0.7995),(0.2056,0.8049),(0.2097,0.8122),(0.2139,0.8194),(0.2181,0.8231),(0.2223,0.8267),(0.2278,0.8303),(0.2362,0.8312),
        (0.2376,0.8331),(0.2459,0.8331),(0.2501,0.8285),(0.2543,0.8321),(0.2584,0.8321),(0.2598,0.8267),(0.2626,0.8267),(0.2654,0.8303),(0.2682,0.8231),(0.2765,0.8231),(0.2793,0.8212),(0.2835,0.8185),(0.2877,0.8185),(0.2905,0.8158),(0.2932,0.8140),(0.2960,0.8104),(0.2988,0.8040),(0.3016,0.8067),(0.3044,0.8095),(0.3100,0.8095),(0.3127,0.8067),(0.3280,0.8067),(0.3322,0.8095),(0.3378,0.8140),(0.3503,0.8140),(0.3531,0.8176),(0.3573,0.8240),(0.3628,0.8267),(0.3698,0.8267),
        (0.3726,0.8294),(0.3754,0.8231),(0.3809,0.8231),(0.3837,0.8194),(0.3893,0.8194),(0.3921,0.8162),(0.3949,0.8203),(0.4004,0.8203),(0.4032,0.8294),(0.4060,0.8267),(0.4102,0.8267),(0.4116,0.8294),(0.4130,0.8294),(0.4157,0.8258),(0.4199,0.8321),(0.4241,0.8398),(0.4296,0.8398),(0.4324,0.8430),(0.4366,0.8503),(0.4435,0.8503),(0.4463,0.8539),(0.4498,0.8567),(0.4561,0.8430),(0.4672,0.8430),(0.4728,0.8398),(0.4770,0.8398),(0.4798,0.8430),(0.4839,0.8467),(0.4881,0.8503),(0.4909,0.8530),(0.4951,0.8597),(0.4993,0.8597),(0.5020,0.8634),(0.5192,0.8634)]

mean_line = [(-0.0283,0.8467),(-0.0255,0.8430),(-0.0213,0.8467),(-0.0158,0.8467),(-0.0088,0.8467),(-0.0046,0.8458),(-0.0004,0.8503),(0.0023,0.8576),(0.0051,0.8557),(0.0093,0.8521),(0.0135,0.8485),(0.0176,0.8485),(0.0232,0.8503),(0.0288,0.8503),(0.0344,0.8485),(0.0399,0.8485),(0.0455,0.8503),(0.0511,0.8521),(0.0566,0.8521),(0.0622,0.8503),(0.0678,0.8503),(0.0747,0.8521),(0.0817,0.8521),(0.0886,0.8530),(0.0984,0.8521),
             (0.1220,0.8539),(0.1387,0.8576),(0.1568,0.8557),(0.1777,0.8557),(0.1986,0.8521),(0.2195,0.8548),(0.2362,0.8557),(0.2459,0.8567),(0.2598,0.8585),(0.2710,0.8594),(0.2877,0.8567),(0.3016,0.8539),(0.3294,0.8539),(0.3740,0.8530),(0.3872,0.8530)]

# ---------------- style / layout (pixel geometry of the page) ----------------
BG = "#00202e"
GREEN = "#1aaf6c"
PALETTE = {"blue": "#1f77b4", "orange": "#ff7f0e", "green": "#2ca02c", "red": "#d62728",
           "purple": "#9467bd", "brown": "#8c564b", "gray": "#7f7f7f", "olive": "#bcbd22",
           "cyan": "#17becf"}
MEAN_COLOR = "#ff5722"
MONO = "DejaVu Sans Mono"
TICK_PX = 66
TITLE_PX = 40
BASELINE_FIX = 0.41   # text glyphs sit this many em below their anchor in the rendered svg

W, H = 2110, 1028
PLOT_X = (-0.0786, 0.6872)      # visible data span of the plotting area
PLOT_Y = (0.55, 1.001)
AREA_LEFT_PX, AREA_TOP_PX = 276, 41
PX_PER_X = 2394.9
PX_PER_Y = 1835.9

# the figure covers the whole canvas; the "plot area" is a sub-rectangle of it
XR = (PLOT_X[0] - AREA_LEFT_PX / PX_PER_X, PLOT_X[0] + (W - AREA_LEFT_PX) / PX_PER_X)
YR = (PLOT_Y[1] - (H - AREA_TOP_PX) / PX_PER_Y, PLOT_Y[1] + AREA_TOP_PX / PX_PER_Y)

def cx(px):
    return XR[0] + px / PX_PER_X

def cy(py):
    return YR[1] - py / PX_PER_Y

p = figure(width=W, height=H, x_range=XR, y_range=YR,
           output_backend="svg", toolbar_location=None,
           x_axis_location=None, y_axis_location=None,
           min_border_left=0, min_border_right=0, min_border_top=0, min_border_bottom=0)
p.background_fill_color = BG
p.border_fill_color = BG
p.outline_line_color = None
p.grid.visible = False

# grid lines (thick vertical, thin horizontal), limited to the plot area
p.segment(x0=x_ticks, x1=x_ticks, y0=[PLOT_Y[0]] * len(x_ticks), y1=[PLOT_Y[1]] * len(x_ticks),
          line_color=GREEN, line_width=12.5, line_cap="butt")
p.segment(x0=[PLOT_X[0]] * len(y_ticks), x1=[PLOT_X[1]] * len(y_ticks), y0=y_ticks, y1=y_ticks,
          line_color=GREEN, line_width=2.5, line_cap="butt")

# thick left axis bar with fading bottom
bar_w = 12.3 / PX_PER_X
x0 = PLOT_X[0]
p.quad(left=[x0], right=[x0 + bar_w], bottom=[0.6], top=[PLOT_Y[1]], fill_color=GREEN, line_color=None)
n_fade = 30
fade_bottoms = [0.6 - 0.05 * (i + 1) / n_fade for i in range(n_fade)]
fade_tops = [0.6 - 0.05 * i / n_fade for i in range(n_fade)]
fade_alpha = [1.0 - (i + 0.5) / n_fade for i in range(n_fade)]
p.quad(left=[x0] * n_fade, right=[x0 + bar_w] * n_fade, bottom=fade_bottoms, top=fade_tops,
       fill_color=GREEN, fill_alpha=fade_alpha, line_color=None)

tick_fix = BASELINE_FIX * TICK_PX
title_fix = BASELINE_FIX * TITLE_PX

# tick labels (target digit baselines: x labels at 933px, y labels 23.5px under their line)
p.text(x=x_ticks, y=[cy(934 - tick_fix)] * len(x_ticks), text=x_tick_labels,
       text_font=value(MONO), text_font_size="%dpx" % TICK_PX, text_color=GREEN,
       text_align="center", text_baseline="alphabetic")
p.text(x=[cx(246.6)] * len(y_ticks), y=[t - (24 - tick_fix) / PX_PER_Y for t in y_ticks],
       text=y_tick_labels,
       text_font=value(MONO), text_font_size="%dpx" % TICK_PX, text_color=GREEN,
       text_align="right", text_baseline="alphabetic")

# axis titles (target baselines: x title at 1022px, y title at x = 50px)
p.text(x=[cx(714)], y=[cy(1022 - title_fix)], text=[x_title],
       text_font=value(MONO), text_font_size="%dpx" % TITLE_PX, text_font_style="bold",
       text_color=GREEN, text_align="left", text_baseline="alphabetic")
p.text(x=[cx(50 - title_fix)], y=[cy(734)], text=[y_title], angle=math.pi / 2,
       text_font=value(MONO), text_font_size="%dpx" % TITLE_PX, text_font_style="bold",
       text_color=GREEN, text_align="left", text_baseline="alphabetic")

# series
all_series = {"blue": blue, "orange": orange, "green": green, "red": red, "purple": purple,
              "brown": brown, "gray": gray, "olive": olive, "cyan": cyan}
for name in series_names:
    pts = all_series[name]
    src = ColumnDataSource(dict(x=[a for a, b in pts], y=[b for a, b in pts]))
    p.line("x", "y", source=src, line_color=PALETTE[name], line_width=5.5, line_join="round")

msrc = ColumnDataSource(dict(x=[a for a, b in mean_line], y=[b for a, b in mean_line]))
p.line("x", "y", source=msrc, line_color=MEAN_COLOR, line_width=13, line_join="round", line_cap="butt")

html = file_html(p, INLINE)
html = html.replace("</head>", "<style>html,body{margin:0;padding:0;background:%s;overflow:hidden;}</style></head>" % BG, 1)
open("out.html", "w").write(html)
